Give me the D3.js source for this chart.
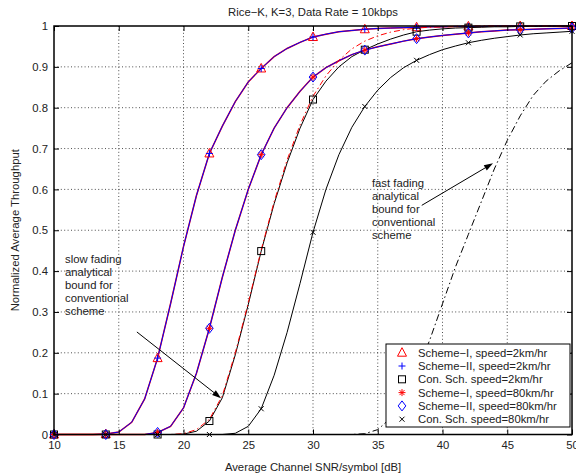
<!DOCTYPE html>
<html>
<head>
<meta charset="utf-8">
<script src="https://cdn.jsdelivr.net/npm/d3@7"></script>
<style>
    body { margin: 0; background: #fff; }
    text { font-family: "Liberation Sans", Arial, Helvetica, sans-serif; }
</style>
</head>
<body>
<div id="canvas"></div>
<script>
"use strict"

/* Data: SNR in dB and normalized throughput */
let snrDb = [10, 11, 12, 13, 14, 15, 16, 17, 18, 19, 20, 21, 22, 23, 24, 25, 26, 27, 28, 29,
    30, 31, 32, 33, 34, 35, 36, 37, 38, 39, 40, 41, 42, 43, 44, 45, 46, 47, 48, 49, 50];

let schemeI2 = [0, 0, 0, 0, 0.001, 0.006, 0.03, 0.087, 0.187, 0.32, 0.46, 0.585, 0.688, 0.755, 0.815, 0.863, 0.896, 0.925, 0.945, 0.96,
    0.973, 0.98, 0.986, 0.989, 0.992, 0.994, 0.995, 0.996, 0.997, 0.998, 0.998, 0.999, 0.999, 0.999, 1, 1, 1, 1, 1, 1, 1];
let schemeII2 = [0, 0, 0, 0, 0.001, 0.006, 0.03, 0.087, 0.187, 0.32, 0.46, 0.585, 0.688, 0.755, 0.815, 0.863, 0.896, 0.925, 0.945, 0.96,
    0.973, 0.98, 0.986, 0.989, 0.992, 0.994, 0.995, 0.996, 0.997, 0.998, 0.998, 0.999, 0.999, 0.999, 1, 1, 1, 1, 1, 1, 1];
let conSch2 = [0, 0, 0, 0, 0, 0, 0, 0, 0, 0, 0.001, 0.008, 0.033, 0.09, 0.195, 0.318, 0.449, 0.565, 0.665, 0.75,
    0.82, 0.865, 0.9, 0.925, 0.942, 0.956, 0.968, 0.978, 0.986, 0.99, 0.993, 0.995, 0.996, 0.997, 0.998, 0.998, 0.999, 0.999, 1, 1, 1];
let schemeI80 = [0, 0, 0, 0, 0, 0, 0, 0, 0.005, 0.02, 0.065, 0.15, 0.26, 0.385, 0.5, 0.6, 0.685, 0.75, 0.8, 0.84,
    0.875, 0.898, 0.915, 0.93, 0.941, 0.949, 0.956, 0.963, 0.969, 0.973, 0.977, 0.98, 0.983, 0.986, 0.988, 0.99, 0.991, 0.992, 0.993, 0.994, 0.995];
let schemeII80 = [0, 0, 0, 0, 0, 0, 0, 0, 0.005, 0.02, 0.065, 0.15, 0.26, 0.385, 0.5, 0.6, 0.685, 0.75, 0.8, 0.84,
    0.875, 0.898, 0.915, 0.93, 0.941, 0.949, 0.956, 0.963, 0.969, 0.973, 0.977, 0.98, 0.983, 0.986, 0.988, 0.99, 0.991, 0.992, 0.993, 0.994, 0.995];
let conSch80 = [0, 0, 0, 0, 0, 0, 0, 0, 0, 0, 0, 0, 0, 0, 0.003, 0.02, 0.063, 0.145, 0.25, 0.37,
    0.495, 0.6, 0.685, 0.752, 0.803, 0.843, 0.874, 0.898, 0.916, 0.93, 0.942, 0.951, 0.959, 0.965, 0.97, 0.974, 0.978, 0.981, 0.983, 0.985, 0.987];
/* analytical bounds for the conventional scheme */
let slowBound = [0, 0, 0, 0, 0, 0, 0, 0, 0, 0, 0.002, 0.012, 0.037, 0.095, 0.2, 0.322, 0.452, 0.57, 0.672, 0.758,
    0.828, 0.878, 0.916, 0.944, 0.963, 0.976, 0.985, 0.991, 0.995, 0.997, 0.998, 0.999, 1, 1, 1, 1, 1, 1, 1, 1, 1];
let fastBound = [0, 0, 0, 0, 0, 0, 0, 0, 0, 0, 0, 0, 0, 0, 0, 0, 0, 0, 0, 0,
    0, 0, 0, 0, 0.002, 0.012, 0.04, 0.09, 0.155, 0.23, 0.32, 0.41, 0.49, 0.57, 0.65, 0.72, 0.78, 0.83, 0.865, 0.89, 0.91];

/* markers only every 4 dB */
let markerSnr = [10, 14, 18, 22, 26, 30, 34, 38, 42, 46, 50];

let xTicks = [10, 15, 20, 25, 30, 35, 40, 45, 50];
let yTicks = [0, 0.1, 0.2, 0.3, 0.4, 0.5, 0.6, 0.7, 0.8, 0.9, 1];

let legendLabels = ["Scheme\u2212I, speed=2km/hr", "Scheme\u2212II, speed=2km/hr", "Con. Sch. speed=2km/hr",
    "Scheme\u2212I, speed=80km/hr", "Scheme\u2212II, speed=80km/hr", "Con. Sch. speed=80km/hr"];

/* Drawing configuration */
let svgWidth = 576;
let svgHeight = 475;
let plotLeft = 54, plotRight = 572, plotTop = 26, plotBottom = 434.5;
let fontSize = 11.3;

let svg = d3.select("#canvas")
    .append("svg")
    .attr("width", svgWidth)
    .attr("height", svgHeight);

let xScale = d3.scaleLinear().domain([10, 50]).range([plotLeft, plotRight]);
let yScale = d3.scaleLinear().domain([0, 1]).range([plotBottom, plotTop]);

/* dotted grid */
let grid = svg.append("g")
    .attr("stroke", "#222")
    .attr("stroke-width", 0.8)
    .attr("stroke-dasharray", "1,2.4");
grid.selectAll(".gx")
    .data(xTicks.slice(1, -1))
    .join("line")
    .attr("class", "gx")
    .attr("x1", d => xScale(d)).attr("x2", d => xScale(d))
    .attr("y1", plotTop).attr("y2", plotBottom);
grid.selectAll(".gy")
    .data(yTicks.slice(1, -1))
    .join("line")
    .attr("class", "gy")
    .attr("x1", plotLeft).attr("x2", plotRight)
    .attr("y1", d => yScale(d)).attr("y2", d => yScale(d));

/* curves */
let line = d3.line()
    .x((d, i) => xScale(snrDb[i]))
    .y(d => yScale(d));

function drawLine(values, color, width, dash) {
    svg.append("path")
        .datum(values)
        .attr("fill", "none")
        .attr("stroke", color)
        .attr("stroke-width", width)
        .attr("stroke-dasharray", dash)
        .attr("d", line);
}

drawLine(schemeI2, "#ff0000", 1.5, null);
drawLine(schemeII2, "#0000ff", 1, null);
drawLine(conSch2, "#000", 1, null);
drawLine(schemeI80, "#ff0000", 1.5, null);
drawLine(schemeII80, "#0000ff", 1, null);
drawLine(conSch80, "#000", 1, null);
drawLine(slowBound, "#ff0000", 1, "6,3,1.5,3");

/* marker symbols */
function drawMarkers(values, kind, color) {
    let pts = markerSnr.map(s => [xScale(s), yScale(values[snrDb.indexOf(s)])]);
    let g = svg.append("g")
        .attr("fill", "none")
        .attr("stroke", color)
        .attr("stroke-width", 1);
    pts.forEach(p => drawSymbol(g, kind, p[0], p[1]));
}

function drawSymbol(g, kind, cx, cy) {
    if (kind === "triangle") {
        g.append("path").attr("d", `M${cx},${cy - 5}L${cx + 4.5},${cy + 3.5}L${cx - 4.5},${cy + 3.5}Z`);
    } else if (kind === "plus") {
        g.append("path").attr("d", `M${cx - 3.5},${cy}H${cx + 3.5}M${cx},${cy - 3.5}V${cy + 3.5}`);
    } else if (kind === "square") {
        g.append("rect").attr("x", cx - 3.5).attr("y", cy - 3.5).attr("width", 7).attr("height", 7);
    } else if (kind === "star") {
        g.append("path").attr("d", `M${cx - 3.5},${cy}H${cx + 3.5}M${cx},${cy - 3.5}V${cy + 3.5}` +
            `M${cx - 2.5},${cy - 2.5}L${cx + 2.5},${cy + 2.5}M${cx - 2.5},${cy + 2.5}L${cx + 2.5},${cy - 2.5}`);
    } else if (kind === "diamond") {
        g.append("path").attr("d", `M${cx},${cy - 5}L${cx + 3.8},${cy}L${cx},${cy + 5}L${cx - 3.8},${cy}Z`);
    } else if (kind === "x") {
        g.append("path").attr("d", `M${cx - 2.5},${cy - 2.5}L${cx + 2.5},${cy + 2.5}M${cx - 2.5},${cy + 2.5}L${cx + 2.5},${cy - 2.5}`);
    }
}

let series = [
    {values: schemeI2, kind: "triangle", color: "#ff0000"},
    {values: schemeII2, kind: "plus", color: "#0000ff"},
    {values: conSch2, kind: "square", color: "#000"},
    {values: schemeI80, kind: "star", color: "#ff0000"},
    {values: schemeII80, kind: "diamond", color: "#0000ff"},
    {values: conSch80, kind: "x", color: "#000"}
];
series.forEach(s => drawMarkers(s.values, s.kind, s.color));

drawLine(fastBound, "#000", 1, "7,3,1.5,3");

/* axes with inward ticks */
svg.append("g")
    .attr("transform", `translate(0,${plotBottom})`)
    .call(d3.axisBottom(xScale).tickValues(xTicks).tickSizeInner(-5).tickSizeOuter(0).tickPadding(6));
svg.append("g")
    .attr("transform", `translate(${plotLeft},0)`)
    .call(d3.axisLeft(yScale).tickValues(yTicks).tickFormat(d3.format("")).tickSizeInner(-5).tickSizeOuter(0).tickPadding(6));
svg.append("g")
    .attr("transform", `translate(0,${plotTop})`)
    .call(d3.axisTop(xScale).tickValues(xTicks).tickFormat("").tickSizeInner(-5).tickSizeOuter(0));
svg.append("g")
    .attr("transform", `translate(${plotRight},0)`)
    .call(d3.axisRight(yScale).tickValues(yTicks).tickFormat("").tickSizeInner(-5).tickSizeOuter(0));
svg.selectAll(".domain").remove();
svg.selectAll(".tick text")
    .attr("font-family", "Liberation Sans, Arial, sans-serif")
    .attr("font-size", fontSize)
    .attr("fill", "#222");

/* box round the plot */
svg.append("rect")
    .attr("x", plotLeft)
    .attr("y", plotTop)
    .attr("width", plotRight - plotLeft)
    .attr("height", plotBottom - plotTop)
    .attr("fill", "none")
    .attr("stroke", "#000")
    .attr("stroke-width", 1.5);

/* legend */
let lg = svg.append("g");
lg.append("rect")
    .attr("x", 386)
    .attr("y", 344)
    .attr("width", 184)
    .attr("height", 83)
    .attr("fill", "#fff")
    .attr("stroke", "#000")
    .attr("stroke-width", 1);
series.forEach((s, i) => {
    let ly = 352.7 + i * 13.3;
    let g = lg.append("g").attr("fill", "none").attr("stroke", s.color).attr("stroke-width", 1);
    drawSymbol(g, s.kind, 402, ly);
    lg.append("text")
        .attr("x", 418)
        .attr("y", ly)
        .attr("dy", "0.35em")
        .attr("font-size", fontSize)
        .attr("fill", "#222")
        .text(legendLabels[i]);
});

/* annotations */
function arrow(x1, y1, x2, y2) {
    let a = Math.atan2(y2 - y1, x2 - x1);
    let len = 9, w = 3;
    let bx = x2 - len * Math.cos(a), by = y2 - len * Math.sin(a);
    svg.append("line")
        .attr("x1", x1).attr("y1", y1)
        .attr("x2", bx).attr("y2", by)
        .attr("stroke", "#000").attr("stroke-width", 1);
    svg.append("path")
        .attr("d", `M${x2},${y2}L${bx - w * Math.sin(a)},${by + w * Math.cos(a)}L${bx + w * Math.sin(a)},${by - w * Math.cos(a)}Z`)
        .attr("fill", "#000");
}

function note(lines, x, y) {
    lines.forEach((t, i) => {
        svg.append("text")
            .attr("x", x)
            .attr("y", y + i * 13.1)
            .attr("dy", "0.35em")
            .attr("font-size", fontSize)
            .attr("fill", "#222")
            .text(t);
    });
}

note(["slow fading", "analytical", "bound for", "conventional", "scheme"], xScale(10.85), yScale(0.43));
arrow(xScale(16.4), yScale(0.251), xScale(22.9), yScale(0.089));
note(["fast fading", "analytical", "bound for", "conventional", "scheme"], xScale(34.55), yScale(0.616));
arrow(xScale(38.4), yScale(0.561), xScale(43.9), yScale(0.664));

/* title and axis labels */
svg.append("text")
    .attr("x", (plotLeft + plotRight) / 2)
    .attr("y", 12.5)
    .attr("dy", "0.35em")
    .attr("text-anchor", "middle")
    .attr("font-size", fontSize)
    .attr("fill", "#222")
    .text("Rice\u2212K, K=3, Data Rate = 10kbps");

svg.append("text")
    .attr("x", (plotLeft + plotRight) / 2)
    .attr("y", 467)
    .attr("dy", "0.35em")
    .attr("text-anchor", "middle")
    .attr("font-size", fontSize)
    .attr("fill", "#222")
    .text("Average Channel SNR/symbol [dB]");

svg.append("text")
    .attr("transform", `translate(15,${(plotTop + plotBottom) / 2}) rotate(-90)`)
    .attr("dy", "0.35em")
    .attr("text-anchor", "middle")
    .attr("font-size", fontSize)
    .attr("fill", "#222")
    .text("Normalized Average Throughput");
</script>
</body>
</html>
